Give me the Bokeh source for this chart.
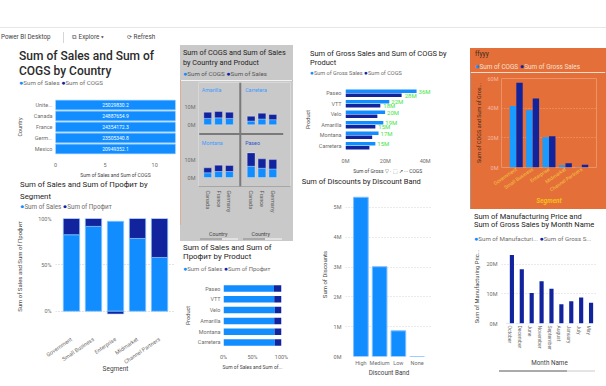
import math
from bokeh.plotting import figure
from bokeh.models import (FactorRange, Range1d, FixedTicker, Div, Span,
                          PrintfTickFormatter, NumeralTickFormatter, ColumnDataSource)
from bokeh.layouts import column, row
from bokeh.embed import file_html
from bokeh.resources import INLINE
from bokeh.core.properties import value
from bokeh.transform import dodge

# ---------------- data ----------------
countries = ["Unite...", "Canada", "France", "Germ...", "Mexico"]
country_sales = [25029830.2, 24887654.9, 24354172.3, 23505340.8, 20949352.1]
country_ticks = [0, 5, 10]

segments = ["Government", "Small Business", "Enterprise", "Midmarket", "Channel Partners"]
segment_sales_share = [0.825, 0.915, 0.97, 0.785, 0.58]
segment_profit_share = [0.175, 0.085, -0.03, 0.215, 0.42]

multi_products = ["Amarilla", "Carretera", "Montana", "Paseo"]
multi_countries = ["Canada", "France", "Germany"]
amarilla_cogs_m = [3.6, 3.9, 3.6]
amarilla_sales_m = [3.5, 3.6, 3.5]
carretera_cogs_m = [2.1, 3.3, 2.9]
carretera_sales_m = [2.7, 3.2, 2.9]
montana_cogs_m = [2.7, 3.4, 3.4]
montana_sales_m = [2.8, 3.6, 3.4]
paseo_cogs_m = [6.4, 5.3, 4.9]
paseo_sales_m = [7.6, 5.3, 5.3]

products = ["Paseo", "VTT", "Velo", "Amarilla", "Montana", "Carretera"]
product_sales_share = [0.87, 0.875, 0.885, 0.875, 0.88, 0.885]
product_profit_share = [0.13, 0.125, 0.115, 0.125, 0.12, 0.115]
product_gross_sales_m = [35.7, 22.0, 19.9, 19.0, 16.6, 15.0]
product_cogs_m = [28.2, 17.5, 16.0, 15.0, 13.4, 12.0]
product_cogs_label_shown = [True, True, False, True, False, False]

discount_bands = ["High", "Medium", "Low", "None"]
discounts_m = [5.34, 3.01, 0.86, 0.0]

segment_cogs_m = [41.4, 38.6, 20.4, 1.6, 0.4]
segment_gross_m = [57.2, 46.6, 21.0, 2.8, 1.8]

months = ["October", "December", "June", "November", "September",
          "August", "January", "July", "May"]
month_gross_m = [23.1, 18.3, 10.3, 14.3, 11.7, 6.5, 7.5, 8.8, 7.0]
month_mfg_price_m = [0.18, 0.15, 0.09, 0.12, 0.10, 0.06, 0.07, 0.08, 0.06]

# ---------------- style ----------------
FONT = "Roboto"
BLUE = "#118DFF"
NAVY = "#12239E"
TXT = "#252423"
GREY = "#6F6D6B"
GRID = "#C8C6C4"
PANEL_C_BG = "#C9C9C9"
PANEL_G_BG = "#E46F38"
PROFIT = "Профит"


def box(w, h, items, bg="transparent"):
    parts = []
    for it in items:
        if isinstance(it, str):
            parts.append(it)
            continue
        x, y, html, size = it[:4]
        color = it[4] if len(it) > 4 else TXT
        extra = it[5] if len(it) > 5 else ""
        lh = round(size * 1.3, 1)
        parts.append(
            f'<div style="position:absolute;left:{x}px;top:{y - lh / 2:.1f}px;'
            f'font-size:{size}px;line-height:{lh}px;color:{color};'
            f'white-space:nowrap;{extra}">{html}</div>')
    html = (f'<div style="position:relative;width:{w}px;height:{h}px;overflow:hidden;'
            f'background:{bg};font-family:{FONT},sans-serif;">' + "".join(parts) + '</div>')
    return Div(text=html, width=w, height=h, margin=(0, 0, 0, 0))


def leg(entries, color=GREY):
    return "&nbsp;".join(
        f'<span style="color:{c};font-size:1.15em">&#9679;</span><span style="color:{color}">{t}</span>'
        for c, t in entries)


def rect(x, y, w, h, c):
    return (f'<div style="position:absolute;left:{x}px;top:{y}px;width:{w}px;'
            f'height:{h}px;background:{c};"></div>')


def mkfig(w, h, x_range, y_range, lrtb, bg="white"):
    p = figure(width=w, height=h, x_range=x_range, y_range=y_range,
               output_backend="svg", toolbar_location=None,
               min_border_left=lrtb[0], min_border_right=lrtb[1],
               min_border_top=lrtb[2], min_border_bottom=lrtb[3],
               background_fill_color=bg, border_fill_color=bg)
    p.outline_line_color = None
    p.grid.grid_line_color = None
    for ax in p.axis:
        ax.axis_line_color = None
        ax.major_tick_line_color = None
        ax.minor_tick_line_color = None
        ax.major_tick_out = 0
        ax.major_tick_in = 0
        ax.major_label_text_font = FONT
        ax.axis_label_text_font = FONT
        ax.major_label_text_color = GREY
        ax.axis_label_text_color = "#444444"
        ax.axis_label_text_font_style = "normal"
        ax.major_label_text_font_size = "5.5px"
        ax.axis_label_text_font_size = "6px"
        ax.major_label_standoff = 4
        ax.axis_label_standoff = 3
    return p


def dotted_grid(g, color=GRID):
    g.grid_line_color = color
    g.grid_line_dash = "1 2"
    g.grid_line_width = 1


# ---------------- header ----------------
header = box(606, 45, [
    rect(0, 27, 606, 1, "#E6E6E6"),
    (1, 37.5, "Power BI Desktop", 6.3, "#444444"),
    rect(63, 32, 1, 11, "#D6D6D6"),
    (72, 37.5, "&#10697; Explore &#9662;", 6.3, "#444444"),
    (127, 37.5, "&#10227; Refresh", 6.3, "#444444"),
])

# ---------------- panel A ----------------
divA = box(180, 43, [
    (19, 12, "Sum of Sales and Sum of", 12, "#2B2B2B", "font-weight:500"),
    (19, 27, "COGS by Country", 12, "#2B2B2B", "font-weight:500"),
    (19, 38, leg([(BLUE, "Sum of Sales"), (NAVY, "Sum of COGS")]), 6.2),
])
a_x = Range1d(0, 12.1)
pa = mkfig(180, 92, a_x, FactorRange(*reversed(countries)), (55, 5, 11, 22))
pa.hbar(y=countries, left=0, right=country_sales, height=0.88,
        fill_color=BLUE, line_color="#6DB8FF", line_width=0.8)
pa.text(x=[(a_x.start + a_x.end) / 2] * len(countries), y=countries,
        text=[f"{v:.1f}" for v in country_sales], text_color="white",
        text_font=value(FONT), text_font_size="5px", text_align="center",
        text_baseline="middle")
pa.xaxis.ticker = FixedTicker(ticks=country_ticks)
pa.xaxis.axis_label = "Sum of Sales and Sum of COGS"
pa.xaxis.axis_label_text_font_size = "5px"
pa.xaxis.axis_label_standoff = 2
pa.xaxis.major_label_standoff = 8
pa.yaxis.axis_label = "Country"
pa.yaxis.axis_label_text_font_size = "5.5px"
pa.yaxis.axis_label_standoff = 8
pa.yaxis.major_label_standoff = 3

# ---------------- panel B ----------------
divB = box(180, 32, [
    (20, 5, f"Sum of Sales and Sum of {PROFIT} by", 7.8),
    (20, 17, "Segment", 7.8),
    (20, 27, leg([(BLUE, "Sum of Sales"), (NAVY, f"Sum of {PROFIT}")]), 6.3),
])
pb = mkfig(180, 174, FactorRange(*segments, range_padding=0.09),
           Range1d(-0.035, 1.0), (47, 5, 6, 72))
pb_prof_bottom = [s if pr >= 0 else 0 for s, pr in zip(segment_sales_share, segment_profit_share)]
pb_prof_top = [s + pr if pr >= 0 else pr for s, pr in zip(segment_sales_share, segment_profit_share)]
pb.vbar(x=segments, bottom=0, top=segment_sales_share, width=0.745,
        fill_color=BLUE, line_color="#8CC8FF", line_width=0.7)
pb.vbar(x=segments, bottom=pb_prof_bottom, top=pb_prof_top, width=0.745,
        fill_color=NAVY, line_color="#8CC8FF", line_width=0.7)
pb.yaxis.ticker = FixedTicker(ticks=[0, 0.5, 1])
pb.yaxis.formatter = NumeralTickFormatter(format="0%")
pb.ygrid.ticker = FixedTicker(ticks=[0, 0.5, 1])
dotted_grid(pb.ygrid)
pb.xaxis.major_label_orientation = 0.6
pb.xaxis.major_label_standoff = 24
pb.xaxis.axis_label = "Segment"
pb.xaxis.axis_label_text_font_size = "6.5px"
pb.xaxis.axis_label_standoff = -5
pb.yaxis.axis_label = f"Sum of Sales and Sum of {PROFIT}"
pb.yaxis.axis_label_text_font_size = "6px"
pb.yaxis.axis_label_standoff = 12

# ---------------- panel C ----------------
divC = box(113, 35, [
    (3, 8, "Sum of COGS and Sum of Sales", 7.3),
    (3, 18, "by Country and Product", 7.3),
    (3, 29.5, leg([(BLUE, "Sum of COGS"), (NAVY, "Sum of Sales")], "#555555"), 6.2),
], bg=PANEL_C_BG)
c_cogs = [amarilla_cogs_m, carretera_cogs_m, montana_cogs_m, paseo_cogs_m]
c_sales = [amarilla_sales_m, carretera_sales_m, montana_sales_m, paseo_sales_m]
ROW_OFFSET = 30
COL_OFFSET = 4
pc = mkfig(113, 145, Range1d(-0.85, 7.63), Range1d(-5.1, 54.0), (18, 3, 2, 39), bg=PANEL_C_BG)
cx, cb, cm, ct = [], [], [], []
lab_x, lab_y, lab_t, lab_c = [], [], [], []
for i, prod in enumerate(multi_products):
    col, rw = i % 2, i // 2
    base = ROW_OFFSET if rw == 0 else 0
    for k in range(len(multi_countries)):
        cx.append(col * COL_OFFSET + k)
        cb.append(base)
        cm.append(base + c_cogs[i][k])
        ct.append(base + c_cogs[i][k] + c_sales[i][k])
    lab_x.append(col * COL_OFFSET - 0.55)
    lab_y.append(base + 19.5)
    lab_t.append(prod)
    lab_c.append("#2D55C8" if prod == "Paseo" else "#3E9BFF")
pc.vbar(x=cx, bottom=cb, top=cm, width=0.72, fill_color=BLUE, line_color="white",
        line_alpha=0.5, line_width=0.6)
pc.vbar(x=cx, bottom=cm, top=ct, width=0.72, fill_color=NAVY, line_color="white",
        line_alpha=0.5, line_width=0.6)
pc.text(x=lab_x, y=lab_y, text=lab_t, text_color=lab_c, text_font=value(FONT),
        text_font_size="5.3px", text_align="left", text_baseline="middle")
pc.add_layout(Span(location=(COL_OFFSET + 2) / 2, dimension="height",
                   line_color="#7A7A7A", line_width=2))
pc.segment(x0=[-0.78], y0=[ROW_OFFSET - 5.2], x1=[COL_OFFSET + 2.96], y1=[ROW_OFFSET - 5.2],
           line_color="#7A7A7A", line_width=2)
pc.yaxis.ticker = FixedTicker(ticks=[0, 10, ROW_OFFSET, ROW_OFFSET + 10])
pc.yaxis.major_label_overrides = {0: "0M", 10: "10M", ROW_OFFSET: "0M", ROW_OFFSET + 10: "10M"}
pc.yaxis.major_label_standoff = 3
pc.xaxis.ticker = FixedTicker(ticks=[c * COL_OFFSET + k for c in range(2) for k in range(3)])
pc.xaxis.major_label_overrides = {c * COL_OFFSET + k: multi_countries[k]
                                  for c in range(2) for k in range(3)}
pc.xaxis.major_label_orientation = "vertical"
pc.xaxis.axis_line_color = "#A6A6A6"
pc.xaxis.major_label_standoff = 4
pc.xaxis.major_label_text_color = "#555555"
divC2 = box(113, 16, [
    (29, 9, "Country", 5.3, "#444444"),
    (71.5, 9, "Country", 5.3, "#444444"),
    rect(20, 13, 22, 2, "#A9A9A9"), rect(42, 13, 16, 2, "#E2E2E2"),
    rect(63, 13, 22, 2, "#A9A9A9"), rect(85, 13, 17, 2, "#E2E2E2"),
], bg=PANEL_C_BG)
panelC = column(divC, pc, divC2,
                styles={"outline": "1px solid #E7A38E", "outline-offset": "-1px"})

# ---------------- panel D ----------------
divD = box(120, 33, [
    (3, 7, "Sum of Sales and Sum of", 7.9),
    (3, 16, f"{PROFIT} by Product", 7.9),
    (3, 28, leg([(BLUE, "Sum of Sales"), (NAVY, f"Sum of {PROFIT}")]), 6.0),
])
pd_ = mkfig(120, 112, Range1d(0, 1.0), FactorRange(*reversed(products), range_padding=0.05),
            (43, 19, 7, 37))
pd_.hbar(y=products, left=0, right=product_sales_share, height=0.6,
         fill_color=BLUE, line_color=None)
pd_.hbar(y=products, left=product_sales_share,
         right=[s + pr for s, pr in zip(product_sales_share, product_profit_share)],
         height=0.6, fill_color=NAVY, line_color=None)
pd_.xaxis.ticker = FixedTicker(ticks=[0, 0.5, 1])
pd_.xaxis.formatter = NumeralTickFormatter(format="0%")
pd_.xaxis.major_label_standoff = 4
pd_.xaxis.axis_label = "Sum of Sales and Sum of..."
pd_.xaxis.axis_label_text_font_size = "5px"
pd_.xaxis.axis_label_standoff = 1
pd_.yaxis.axis_label = "Product"
pd_.yaxis.axis_label_text_font_size = "5.5px"
pd_.yaxis.major_label_standoff = 3
pd_.yaxis.axis_label_standoff = 4

# ---------------- panel E ----------------
divE = box(170, 34, [
    (10, 9, "Sum of Gross Sales and Sum of COGS by", 7.5),
    (10, 17.7, "Product", 7.5),
    (10, 29, leg([(BLUE, "Sum of Gross Sales"), (NAVY, "Sum of COGS")]), 5.6),
])
pe = mkfig(170, 97, Range1d(0, 43.7), FactorRange(*reversed(products), range_padding=0.05),
           (45, 5, 7, 20))
src_e = ColumnDataSource(dict(p=products, g=product_gross_sales_m, c=product_cogs_m,
                              gl=[f"{round(v)}M" for v in product_gross_sales_m]))
pe.hbar(y=dodge("p", 0.19, range=pe.y_range), left=0, right="g", height=0.33,
        fill_color=BLUE, line_color=None, source=src_e)
pe.hbar(y=dodge("p", -0.19, range=pe.y_range), left=0, right="c", height=0.33,
        fill_color=NAVY, line_color=None, source=src_e)
GREEN = "#45E445"
pe.text(x="g", y=dodge("p", 0.19, range=pe.y_range), text="gl", source=src_e,
        x_offset=2, text_color=GREEN, text_font=value(FONT), text_font_size="6px",
        text_align="left", text_baseline="middle")
src_ec = ColumnDataSource(dict(
    p=[p for p, s in zip(products, product_cogs_label_shown) if s],
    c=[v for v, s in zip(product_cogs_m, product_cogs_label_shown) if s],
    cl=[f"{round(v)}M" for v, s in zip(product_cogs_m, product_cogs_label_shown) if s]))
pe.text(x="c", y=dodge("p", -0.19, range=pe.y_range), text="cl", source=src_ec,
        x_offset=3, text_color=GREEN, text_font=value(FONT), text_font_size="6px",
        text_align="left", text_baseline="middle")
pe.xaxis.ticker = FixedTicker(ticks=[0, 20, 40])
pe.xaxis.formatter = PrintfTickFormatter(format="%dM")
pe.xaxis.major_label_standoff = 5
pe.xaxis.axis_label = "Sum of Gross  \u25bd \u00b7 \u2b1a \u2197 \u00b7\u00b7\u00b7  COGS"
pe.xaxis.axis_label_text_font_size = "5px"
pe.xaxis.axis_label_standoff = 1
pe.yaxis.axis_label = "Product"
pe.yaxis.axis_label_text_font_size = "5.5px"
pe.yaxis.major_label_standoff = 4
pe.yaxis.axis_label_standoff = 5

# ---------------- panel F ----------------
divF = box(170, 12, [
    (1.7, 5.7, "Sum of Discounts by Discount Band", 7.5),
])
pf = mkfig(170, 198, FactorRange(*discount_bands, range_padding=0.16), Range1d(0, 5.5),
           (22, 38, 4, 30))
pf.vbar(x=discount_bands, top=discounts_m, width=0.78, fill_color=BLUE,
        line_color="#7DBEFF", line_width=1)
pf.yaxis.ticker = FixedTicker(ticks=[0, 1, 2, 3, 4, 5])
pf.yaxis.formatter = PrintfTickFormatter(format="%dM")
pf.ygrid.ticker = FixedTicker(ticks=[0, 1, 2, 3, 4, 5])
dotted_grid(pf.ygrid, "#D6D4D2")
pf.yaxis.major_label_standoff = 4
pf.xaxis.major_label_standoff = 3
pf.xaxis.axis_label = "Discount Band"
pf.xaxis.axis_label_text_font_size = "6.3px"
pf.xaxis.axis_label_standoff = 0
pf.yaxis.axis_label = "Sum of Discounts"
pf.yaxis.axis_label_text_font_size = "6px"
pf.yaxis.axis_label_standoff = 3

# ---------------- panel G ----------------
spacer = box(136, 3, [])
divG = box(136, 24, [
    (5, 6, "ffyyy", 6.5, "#3A2A22"),
    (5, 18.7, leg([(BLUE, "Sum of COGS"), (NAVY, "Sum of Gross Sales")], "#F6E1D3"), 6.4),
], bg=PANEL_G_BG)
pg = mkfig(136, 137, FactorRange(*segments, range_padding=0.16), Range1d(0, 60),
           (31, 10, 6, 42), bg=PANEL_G_BG)
pg.vbar(x=dodge("s", -0.2, range=pg.x_range), top="c", width=0.39, fill_color="#1A9BFF",
        line_color=None, source=ColumnDataSource(dict(s=segments, c=segment_cogs_m)))
pg.vbar(x=dodge("s", 0.2, range=pg.x_range), top="g", width=0.39, fill_color=NAVY,
        line_color=None, source=ColumnDataSource(dict(s=segments, g=segment_gross_m)))
pg.yaxis.ticker = FixedTicker(ticks=[0, 20, 40, 60])
pg.yaxis.formatter = PrintfTickFormatter(format="%dM")
pg.ygrid.ticker = FixedTicker(ticks=[0, 20, 40, 60])
dotted_grid(pg.ygrid, "#F2A27E")
pg.yaxis.major_label_text_color = "#F7B7A3"
pg.yaxis.major_label_standoff = 3
pg.yaxis.axis_label = "Sum of COGS and Sum of Gros..."
pg.yaxis.axis_label_text_color = "#3A2A22"
pg.yaxis.axis_label_text_font_size = "5.5px"
pg.yaxis.axis_label_standoff = 3
pg.xaxis.major_label_orientation = 0.6
pg.xaxis.major_label_text_color = "#F5C443"
pg.xaxis.major_label_text_font_size = "5px"
pg.xaxis.major_label_standoff = 1
pg.xaxis.axis_label = "Segment"
pg.xaxis.axis_label_text_color = "#F5C21B"
pg.xaxis.axis_label_text_font_style = "bold italic"
pg.xaxis.axis_label_text_font_size = "6.5px"
pg.xaxis.axis_label_standoff = -1
panelG = column(divG, pg, styles={"outline": "1px solid #9E9E9E", "outline-offset": "-1px"})

# ---------------- panel H ----------------
divH = box(136, 35, [
    (4, 7.7, "Sum of Manufacturing Price and", 7.5),
    (4, 16, "Sum of Gross Sales by Month Name", 7.5),
    (4, 30, leg([(BLUE, "Sum of Manufacturi..."), (NAVY, "Sum of Gross S...")]), 6.2),
])
ph = mkfig(136, 125, FactorRange(*months, range_padding=0.078), Range1d(0, 25),
           (30, 9, 5, 40))
ph.vbar(x=dodge("m", -0.2, range=ph.x_range), top="v", width=0.4, fill_color="#5FB4FF",
        line_color=None, source=ColumnDataSource(dict(m=months, v=month_mfg_price_m)))
ph.vbar(x=dodge("m", 0.2, range=ph.x_range), top="v", width=0.42, fill_color=NAVY,
        line_color=None, source=ColumnDataSource(dict(m=months, v=month_gross_m)))
ph.yaxis.ticker = FixedTicker(ticks=[0, 10, 20])
ph.yaxis.formatter = PrintfTickFormatter(format="%dM")
ph.ygrid.ticker = FixedTicker(ticks=[0, 10, 20])
dotted_grid(ph.ygrid, "#D6D4D2")
ph.yaxis.major_label_standoff = 4
ph.yaxis.axis_label = "Sum of Manufacturing Pric..."
ph.yaxis.axis_label_text_font_size = "5.8px"
ph.yaxis.axis_label_standoff = 4
ph.xaxis.major_label_orientation = "vertical"
ph.xaxis.major_label_text_font_size = "5px"
ph.xaxis.major_label_standoff = 2
ph.xaxis.axis_label = "Month Name"
ph.xaxis.axis_label_text_font_size = "6.3px"
ph.xaxis.axis_label_standoff = 6
scrollH = box(136, 17, [
    rect(29, 1, 68, 2, "#ABABAB"), rect(97, 1, 28, 2, "#E4E4E4"),
])

# ---------------- layout ----------------
col1 = column(divA, pa, divB, pb)
col2 = column(panelC, divD, pd_)
col3 = column(divE, pe, divF, pf)
col4 = column(spacer, panelG, divH, ph, scrollH)
root = column(header, row(col1, col2, col3, col4), margin=(0, 0, 0, 0))

open("out.html", "w").write(file_html(root, INLINE))
